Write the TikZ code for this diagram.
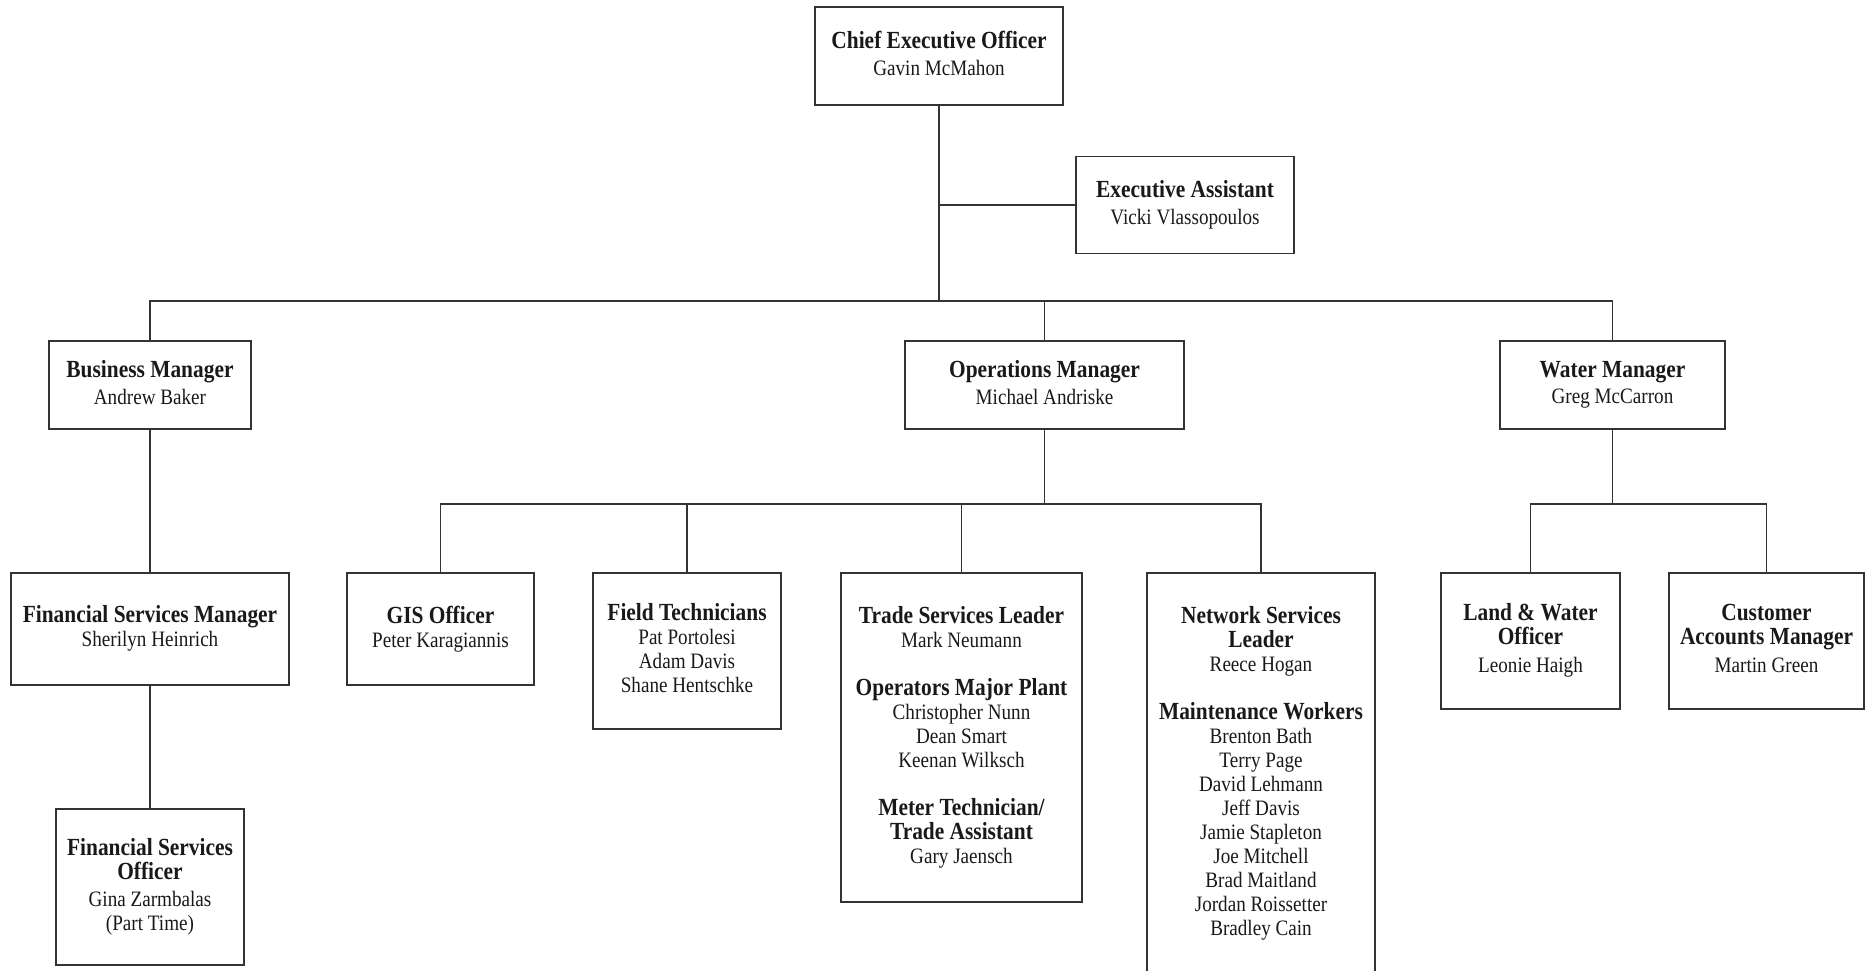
\documentclass[tikz,border=0pt]{standalone}
\usepackage{fontspec}
\setmainfont{Liberation Serif}[FakeStretch=0.87]
\newcommand{\rolename}[1]{{\bfseries\fontsize{12.3}{12}\selectfont #1}}

\begin{document}
\begin{tikzpicture}[x=0.5pt, y=-0.5pt, every node/.style={font=\fontsize{11}{12}\selectfont, text=black!90}, post/.style={draw=black!80, line width=0.85pt, align=center, inner sep=0pt, execute at end node={\rule[-2.6pt]{0pt}{0pt}}}, link/.style={draw=black!80, line width=0.85pt}]
	\clip (0,0) rectangle (1868,970);
	\node[post, minimum width=124pt, minimum height=49pt] (ceo) at (939,56) {\rolename{Chief Executive Officer}\\[1.2pt] Gavin McMahon};
	\node[post, minimum width=109pt, minimum height=48.5pt] (ea) at (1185,205) {\rolename{Executive Assistant}\\[1.2pt] Vicki Vlassopoulos};
	\node[post, minimum width=101pt, minimum height=44pt] (bm) at (150,385) {\rolename{Business Manager}\\[1.2pt] Andrew Baker};
	\node[post, minimum width=139.5pt, minimum height=44pt] (om) at (1044.5,385) {\rolename{Operations Manager}\\[1.2pt] Michael Andriske};
	\node[post, minimum width=112.5pt, minimum height=44pt] (wm) at (1612.5,385) {\rolename{Water Manager}\\[1.2pt] Greg McCarron};
	\node[post, minimum width=139pt, minimum height=56pt] (fsm) at (150,629) {\rolename{Financial Services Manager}\\ Sherilyn Heinrich};
	\node[post, minimum width=94pt, minimum height=78pt] (fso) at (150,887) {\rolename{Financial Services}\\ \rolename{Officer}\\[1.5pt] Gina Zarmbalas\\ (Part Time)};
	\node[post, minimum width=93.5pt, minimum height=56pt] (gis) at (440.5,629) {\rolename{GIS Officer}\\ Peter Karagiannis};
	\node[post, minimum width=94pt, minimum height=78pt] (ft) at (687,651) {\rolename{Field Technicians}\\ Pat Portolesi\\ Adam Davis\\ Shane Hentschke};
	\node[post, minimum width=120.5pt, minimum height=164.5pt] (tsl) at (961.5,737.5) {\rolename{Trade Services Leader}\\ Mark Neumann\\[12pt] \rolename{Operators Major Plant}\\ Christopher Nunn\\ Dean Smart\\ Keenan Wilksch\\[12pt] \rolename{Meter Technician/}\\ \rolename{Trade Assistant}\\ Gary Jaensch};
	\node[post, minimum width=114pt, minimum height=200.5pt] (nsl) at (1261,773.5) {\rolename{Network Services}\\ \rolename{Leader}\\ Reece Hogan\\[12pt] \rolename{Maintenance Workers}\\ Brenton Bath\\ Terry Page\\ David Lehmann\\ Jeff Davis\\ Jamie Stapleton\\ Joe Mitchell\\ Brad Maitland\\ Jordan Roissetter\\ Bradley Cain};
	\node[post, minimum width=89.5pt, minimum height=68pt] (lwo) at (1530.5,641) {\rolename{Land \& Water}\\ \rolename{Officer}\\[2pt] Leonie Haigh};
	\node[post, minimum width=97.5pt, minimum height=68pt] (cam) at (1766.5,641) {\rolename{Customer}\\ \rolename{Accounts Manager}\\[2pt] Martin Green};
	\coordinate (bus) at (939,301);
	\coordinate (opsbus) at (1044.5,504);
	\coordinate (watbus) at (1612.5,504);
	\draw[link] (ceo.south) -- (bus);
	\draw[link] (ea.west) -- (ea.west -| bus);
	\draw[link] (bm.north) |- (bus) -| (wm.north);
	\draw[link] (om.north) -- (om.north |- bus);
	\draw[link] (bm.south) -- (fsm.north);
	\draw[link] (fsm.south) -- (fso.north);
	\draw[link] (om.south) -- (opsbus);
	\draw[link] (gis.north) |- (opsbus) -| (nsl.north);
	\draw[link] (ft.north) -- (ft.north |- opsbus);
	\draw[link] (tsl.north) -- (tsl.north |- opsbus);
	\draw[link] (wm.south) -- (watbus);
	\draw[link] (lwo.north) |- (watbus) -| (cam.north);
\end{tikzpicture}
\end{document}
